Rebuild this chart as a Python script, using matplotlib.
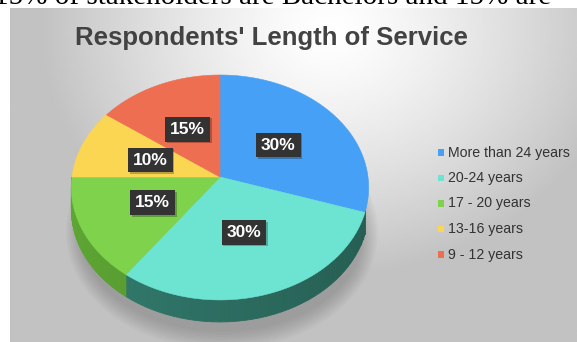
import numpy as np
import matplotlib
matplotlib.use('agg')
import matplotlib.pyplot as plt
from matplotlib.patches import Polygon, Rectangle, Ellipse
from matplotlib.colors import to_rgb

# Chart data
title = "Respondents' Length of Service"
categories = ["More than 24 years", "20-24 years", "17 - 20 years", "13-16 years", "9 - 12 years"]
shares = [30, 30, 15, 10, 15]
top_colors = ["#46a0f5", "#6de4d1", "#7fd24c", "#fad652", "#ee6e52"]
side_colors = ["#2f6fae", "#2b6a5e", "#4f8d2c", "#b09530", "#a64c38"]
caption = "15% of stakeholders are Bachelors and 15% are"

W, H = 577, 342
fig = plt.figure(figsize=(W / 100, H / 100), dpi=100)
ax = fig.add_axes([0, 0, 1, 1])
ax.set_xlim(0, W)
ax.set_ylim(H, 0)
ax.axis('off')

# Grey gradient background of the chart area
gx, gy = np.meshgrid(np.linspace(10, W, 300), np.linspace(8, H, 200))
d = np.sqrt(((gx - 330) / 1.0) ** 2 + ((gy - 30) / 0.85) ** 2)
shade = np.clip(1.0 - 0.25 * (d / 300) ** 1.3, 0.76, 1.0)
ax.imshow(shade, cmap='gray', vmin=0, vmax=1, extent=(10, W, H, 8), aspect='auto', zorder=0)

# Cropped line of the document text above the chart (only its lower part shows)
ax.text(-6, 4.5, caption, fontsize=21, family='Liberation Serif', color='black',
        ha='left', va='baseline', zorder=1)

# Title
ax.text(271, 38, title, fontsize=18.5, fontweight='bold', family='Liberation Sans',
        color='#424242', ha='center', va='center', zorder=5)

# Perspective projection of the pie's top face
CX, CY, A, B, K = 220, 177, 148, 111.5, 0.093
DEPTH = 22


def proj(r, theta):
    X = r * np.cos(np.radians(theta))
    Y = r * np.sin(np.radians(theta))
    w = 1 + K * Y
    return CX + A * X / w, CY - B * Y / w


# soft shadow beneath the pie
for i in range(8):
    ax.add_patch(Ellipse((CX + 2, 232), 284 + i * 4, 200 + i * 5, fc='black', ec='none',
                         alpha=0.025, zorder=1))

bounds = 90 - 360 * np.cumsum([0] + shares) / sum(shares)

# sides (visible front part only)
for i in range(len(shares)):
    t0, t1 = bounds[i], bounds[i + 1]
    lo, hi = max(t1, -180), min(t0, -17)
    if lo >= hi:
        continue
    base = np.array(to_rgb(side_colors[i]))
    edges = np.linspace(hi, lo, 40)
    for j in range(len(edges) - 1):
        a0, a1 = edges[j], edges[j + 1]
        ts = np.linspace(a0, a1, 4)
        x, y = proj(1, ts)
        pts = list(zip(x, y)) + list(zip(x[::-1], y[::-1] + DEPTH))
        frac = (np.cos(np.radians((a0 + a1) / 2)) + 1) / 2
        col = np.clip(base * (1.18 - 0.3 * frac), 0, 1)
        ax.add_patch(Polygon(pts, closed=True, fc=col, ec=col, lw=0.6, zorder=2))

# top face
for i in range(len(shares)):
    ts = np.linspace(bounds[i], bounds[i + 1], 80)
    x, y = proj(1, ts)
    pts = [(CX, CY)] + list(zip(x, y))
    ax.add_patch(Polygon(pts, closed=True, fc=top_colors[i], ec=top_colors[i], lw=0.4, zorder=3))

# percentage labels
for i, v in enumerate(shares):
    mid = (bounds[i] + bounds[i + 1]) / 2
    lx, ly = proj(0.5, mid)
    ax.text(lx + 1.5, ly + 1.5, f"{v}%", fontsize=12.5, fontweight='bold', family='Liberation Sans',
            color='none', ha='center', va='center', zorder=4,
            bbox=dict(boxstyle='square,pad=0.28', fc='black', ec='none', alpha=0.25))
    ax.text(lx, ly, f"{v}%", fontsize=12.5, fontweight='bold', family='Liberation Sans',
            color='white', ha='center', va='center', zorder=4,
            bbox=dict(boxstyle='square,pad=0.28', fc='#333333', ec='none'))

# legend
for i, (lab, col) in enumerate(zip(categories, top_colors)):
    yy = 152.5 + i * 25.5
    ax.add_patch(Rectangle((437.5, yy - 3.4), 6.8, 6.8, fc=col, ec='none', zorder=5))
    ax.text(448, yy, lab, fontsize=10.2, family='Liberation Sans', color='#333333',
            ha='left', va='center', zorder=5)

fig.savefig('out.png', dpi=100)
